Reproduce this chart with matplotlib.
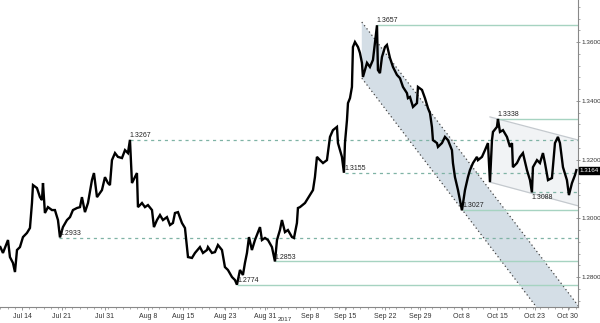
import numpy as np
import matplotlib.pyplot as plt

plt.rcParams['font.family'] = ['Liberation Sans', 'DejaVu Sans']

# trading-day offsets from Jul 11 2017 and price (GBP/USD)
t = [0.0, 0.36, 1.06, 1.33, 1.75, 2.03, 2.31, 2.72, 3.14, 3.69, 4.11, 4.39, 4.53, 5.08, 5.5,
     5.78, 5.92, 6.19, 6.61, 7.17, 7.58, 8.0, 8.28, 8.69, 9.25, 9.67, 10.08, 10.64, 11.06,
     11.33, 11.75, 12.17, 12.72, 13.0, 13.42, 13.83, 14.11, 14.53, 14.94, 15.22, 15.5, 15.92,
     16.33, 16.89, 17.31, 17.72, 18.0, 18.28, 18.69, 18.97, 19.11, 19.67, 20.08, 20.5, 21.06,
     21.33, 21.75, 22.17, 22.58, 23.14, 23.56, 23.97, 24.25, 24.67, 25.22, 25.64, 26.06,
     26.61, 27.03, 27.72, 28.14, 28.69, 28.83, 29.39, 29.81, 30.22, 30.78, 31.19, 31.61,
     32.17, 32.58, 32.86, 33.28, 33.69, 33.97, 34.25, 34.53, 34.94, 35.36, 35.78, 36.06,
     36.33, 36.75, 37.17, 37.72, 38.14, 38.42, 38.83, 39.11, 39.53, 39.94, 40.5, 40.78,
     41.19, 41.33, 41.61, 42.31, 43.0, 43.42, 43.69, 43.97, 44.39, 44.81, 45.36, 45.78,
     46.19, 46.75, 46.89, 47.17, 47.44, 47.72, 47.86, 48.14, 48.28, 48.56, 48.83, 48.97,
     49.25, 49.67, 49.94, 50.22, 50.36, 50.92, 51.33, 51.75, 52.03, 52.31, 52.44, 52.72,
     53.0, 53.42, 53.69, 54.11, 54.53, 55.08, 55.5, 55.92, 56.47, 56.61, 56.89, 57.31,
     57.86, 58.0, 58.56, 58.97, 59.39, 59.67, 59.94, 60.08, 60.64, 60.78, 61.33, 61.75,
     62.17, 62.72, 62.86, 63.14, 63.56, 64.11, 64.53, 64.94, 65.22, 65.64, 66.19, 66.33,
     66.89, 67.31, 67.72, 68.0, 68.28, 68.42, 68.97, 69.11, 69.39, 69.81, 70.36, 70.78,
     71.06, 71.19, 71.75, 72.17, 72.58, 73.14, 73.56, 73.83, 73.97, 74.53, 74.94, 75.36,
     75.64, 76.06, 76.61, 77.03, 77.44, 77.72, 78.14, 78.69, 78.97, 79.39, 79.81, 80.0]
price = [1.2902, 1.2882, 1.2926, 1.2868, 1.2848, 1.2817, 1.2892, 1.2902, 1.2936, 1.2950,
         1.2967, 1.3052, 1.3113, 1.3103, 1.3072, 1.3062, 1.3120, 1.3018, 1.3038, 1.3028,
         1.3028, 1.2994, 1.2935, 1.2970, 1.2994, 1.3004, 1.3028, 1.3035, 1.3038, 1.3072,
         1.3021, 1.3052, 1.3130, 1.3154, 1.3072, 1.3086, 1.3096, 1.3140, 1.3120, 1.3113,
         1.3198, 1.3222, 1.3209, 1.3205, 1.3232, 1.3222, 1.3267, 1.3120, 1.3140, 1.3154,
         1.3038, 1.3052, 1.3038, 1.3045, 1.3028, 1.2970, 1.2994, 1.3011, 1.2994, 1.3004,
         1.2977, 1.2984, 1.3018, 1.3021, 1.2984, 1.2967, 1.2868, 1.2865, 1.2882, 1.2902,
         1.2882, 1.2892, 1.2902, 1.2882, 1.2885, 1.2909, 1.2892, 1.2834, 1.2824, 1.2800,
         1.2790, 1.2774, 1.2824, 1.2807, 1.2848, 1.2882, 1.2936, 1.2892, 1.2926, 1.2953,
         1.2970, 1.2926, 1.2933, 1.2926, 1.2902, 1.2853, 1.2926, 1.2960, 1.2994, 1.2953,
         1.2960, 1.2936, 1.2933, 1.2984, 1.3035, 1.3038, 1.3052, 1.3079, 1.3096, 1.3140,
         1.3209, 1.3198, 1.3188, 1.3198, 1.3277, 1.3300, 1.3311, 1.3256, 1.3232, 1.3209,
         1.3155, 1.3256, 1.3334, 1.3392, 1.3409, 1.3447, 1.3583, 1.3600, 1.3583, 1.3563,
         1.3529, 1.3481, 1.3529, 1.3515, 1.3539, 1.3597, 1.3657, 1.3505, 1.3494, 1.3549,
         1.3583, 1.3590, 1.3546, 1.3515, 1.3488, 1.3477, 1.3447, 1.3426, 1.3409, 1.3413,
         1.3379, 1.3392, 1.3447, 1.3437, 1.3409, 1.3375, 1.3358, 1.3311, 1.3266, 1.3256,
         1.3243, 1.3256, 1.3277, 1.3266, 1.3232, 1.3188, 1.3140, 1.3096, 1.3027, 1.3096,
         1.3140, 1.3164, 1.3188, 1.3209, 1.3198, 1.3209, 1.3232, 1.3256, 1.3123, 1.3266,
         1.3294, 1.3311, 1.3338, 1.3294, 1.3300, 1.3277, 1.3243, 1.3256, 1.3174, 1.3188,
         1.3209, 1.3222, 1.3164, 1.3130, 1.3088, 1.3174, 1.3198, 1.3188, 1.3222, 1.3188,
         1.3130, 1.3137, 1.3256, 1.3277, 1.3256, 1.3174, 1.3130, 1.3079, 1.3120, 1.3147,
         1.3164]
last_price = 1.3164

tick_pos = [3.0, 8.55, 14.5, 20.5, 25.4, 31.2, 36.75, 43.0, 47.9, 53.4, 58.3, 64.1, 69.0, 74.25, 78.8]
tick_lab = ["Jul 14", "Jul 21", "Jul 31", "Aug 8", "Aug 15", "Aug 23", "Aug 31", "Sep 8",
            "Sep 15", "Sep 22", "Sep 29", "Oct 8", "Oct 15", "Oct 23", "Oct 30"]

# marked levels: value, day where it starts
solid_vals = [1.3657, 1.3338, 1.3027, 1.2853, 1.2774]
solid_days = [52.3, 69.0, 64.2, 38.1, 32.9]
dash_vals = [1.3267, 1.3155, 1.2933, 1.3088]
dash_days = [18.0, 47.8, 8.2, 73.8]

# descending channel (start day, end day, upper start, lower start, upper end, lower end)
big_ch = [50.2, 80.3, 1.3668, 1.3477, 1.2701, 1.2510]
small_ch = [68.0, 80.3, 1.3345, 1.3123, 1.3266, 1.3042]

fig = plt.figure(figsize=(6, 3.23), dpi=100)
ax = fig.add_axes([0, 0.0495, 0.963, 0.9505])
x_lo, x_hi = -0.05, 80.2
ax.set_xlim(x_lo, x_hi)
ax.set_ylim(1.2698, 1.3743)

# channels
bx = [big_ch[0], big_ch[1]]
ax.fill_between(bx, [big_ch[3], big_ch[5]], [big_ch[2], big_ch[4]], color='#d4dee6', lw=0, zorder=1)
ax.plot(bx, [big_ch[2], big_ch[4]], color='#444444', lw=0.9, ls=(0, (1, 2.2)), zorder=2)
ax.plot(bx, [big_ch[3], big_ch[5]], color='#444444', lw=0.9, ls=(0, (1, 2.2)), zorder=2)
sx = [small_ch[0], small_ch[1]]
ax.fill_between(sx, [small_ch[3], small_ch[5]], [small_ch[2], small_ch[4]], color='#f1f3f5', lw=0, zorder=1)
ax.plot(sx, [small_ch[2], small_ch[4]], color='#c4c9ce', lw=0.9, zorder=2)
ax.plot(sx, [small_ch[3], small_ch[5]], color='#c4c9ce', lw=0.9, zorder=2)

# levels
for v, d in zip(solid_vals, solid_days):
    ax.hlines(v, d, x_hi, color='#a6d3c1', lw=1.0, zorder=2)
    ax.text(d, v + 0.0003, f"{v:.4f}", fontsize=5, color='#222222', ha='left', va='bottom', zorder=5)
for v, d in zip(dash_vals, dash_days):
    ax.hlines(v, d, x_hi, color='#7fb3a5', lw=0.9, ls=(0, (2.5, 3)), zorder=2)
    if v == 1.3088:
        ax.text(d, v - 0.0004, f"{v:.4f}", fontsize=5, color='#222222', ha='left', va='top', zorder=5)
    else:
        ax.text(d, v + 0.0003, f"{v:.4f}", fontsize=5, color='#222222', ha='left', va='bottom', zorder=5)

# price
ax.plot(t, price, color='black', lw=1.7, zorder=4, solid_joinstyle='miter')

# axes styling
for s in ['left', 'top']:
    ax.spines[s].set_visible(False)
ax.spines['right'].set_color('#888888')
ax.spines['bottom'].set_color('#888888')
ax.spines['right'].set_linewidth(0.8)
ax.spines['bottom'].set_linewidth(0.8)
ax.yaxis.tick_right()
ax.set_yticks([1.28, 1.30, 1.32, 1.34, 1.36])
ax.set_yticklabels([f"{v:.4f}" for v in [1.28, 1.30, 1.32, 1.34, 1.36]])
ax.set_yticks(np.arange(1.272, 1.374, 0.004), minor=True)
ax.tick_params(axis='y', which='major', direction='inout', length=3, width=0.6, colors='#888888',
               labelcolor='#333333', labelsize=4.6, pad=0.8)
ax.tick_params(axis='y', which='minor', direction='out', length=1.5, width=0.5, colors='#888888')
ax.set_xticks(tick_pos)
ax.set_xticklabels(tick_lab)
ax.set_xticks(np.arange(0, 81, 1), minor=True)
ax.tick_params(axis='x', which='major', direction='out', length=2.5, width=0.6, colors='#888888',
               labelcolor='#333333', labelsize=5, pad=1.5)
ax.tick_params(axis='x', which='minor', direction='out', length=1.5, width=0.5, colors='#888888')
ax.text(39.5, -0.033, "2017", transform=ax.get_xaxis_transform(), fontsize=4.6, color='#333333',
        ha='center', va='top')

# last price tag
ax.annotate(f"{last_price:.4f}", xy=(1.0, last_price), xycoords=('axes fraction', 'data'),
            xytext=(1.5, 0), textcoords='offset points', fontsize=4.5, color='white',
            ha='left', va='center', annotation_clip=False,
            bbox=dict(boxstyle='square,pad=0.15', fc='black', ec='black'))

fig.savefig('out.png', dpi=100)
